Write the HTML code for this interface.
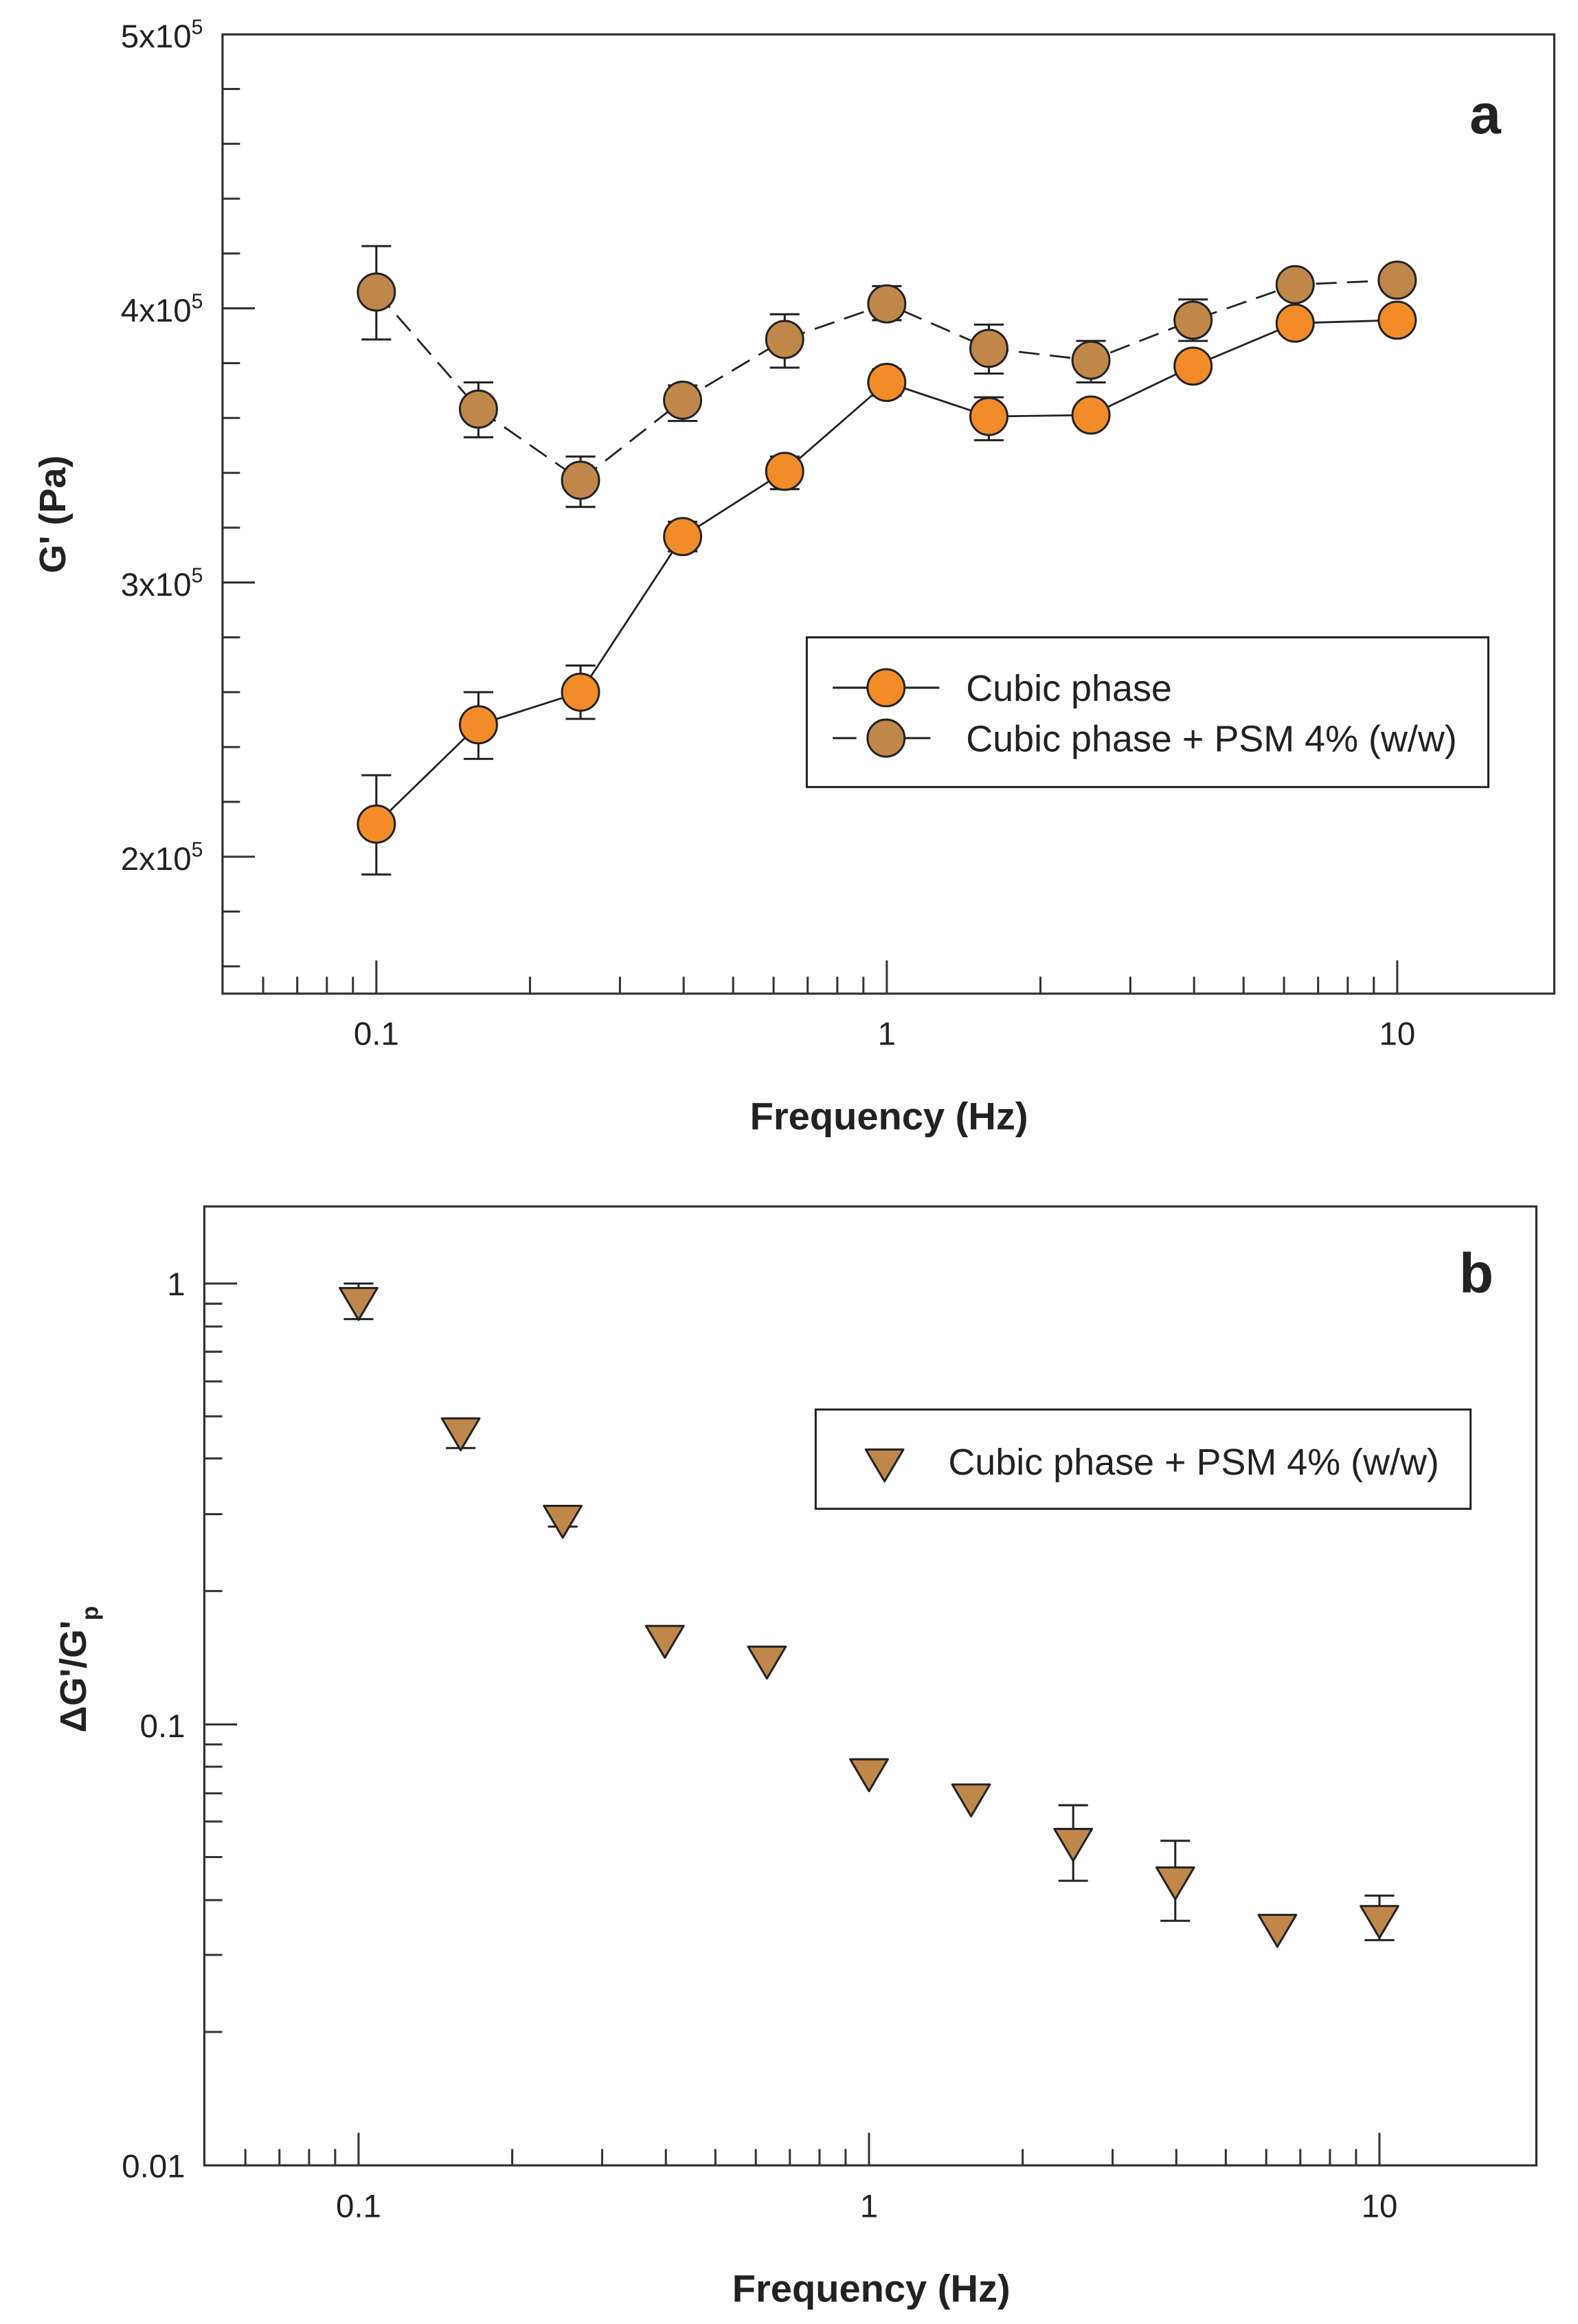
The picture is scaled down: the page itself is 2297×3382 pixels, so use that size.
<!DOCTYPE html>
<html><head><meta charset="utf-8"><style>
html,body{margin:0;padding:0;background:#fff;}
svg{display:block;}
text{font-family:"Liberation Sans",Arial,sans-serif;fill:#222;}
</style></head><body>
<svg width="2297" height="3382" viewBox="0 0 1065 1568" xmlns="http://www.w3.org/2000/svg">
<rect width="1065" height="1568" fill="#fff"/>

<!-- ================= PANEL A ================= -->
<rect x="150.2" y="23.2" width="898.8" height="647.2" fill="none" stroke="#333" stroke-width="1.5"/>
<path stroke="#333" stroke-width="1.4" fill="none" d="
M150 208 h22 M150 393 h22 M150 578 h22
M150 60 h12 M150 97 h12 M150 134 h12 M150 171 h12
M150 245 h12 M150 282 h12 M150 319 h12 M150 356 h12
M150 430 h12 M150 467 h12 M150 504 h12 M150 541 h12
M150 615 h12 M150 652 h12"/>
<g id="xt">
<path stroke="#333" stroke-width="1.4" fill="none" d="
M254 670 v-22 M598.5 670 v-22 M943 670 v-22
M177.6 670 v-11 M200.6 670 v-11 M220.6 670 v-11 M238.2 670 v-11
M357.7 670 v-11 M418.4 670 v-11 M461.4 670 v-11 M494.8 670 v-11 M522.1 670 v-11 M545.1 670 v-11 M565.1 670 v-11 M582.7 670 v-11
M702.2 670 v-11 M762.9 670 v-11 M805.9 670 v-11 M839.3 670 v-11 M866.6 670 v-11 M889.6 670 v-11 M909.6 670 v-11 M927.2 670 v-11"/>
</g>
<g font-size="22" text-anchor="end">
<text x="137" y="32">5x10<tspan font-size="14" dy="-9">5</tspan></text>
<text x="137" y="217">4x10<tspan font-size="14" dy="-9">5</tspan></text>
<text x="137" y="402">3x10<tspan font-size="14" dy="-9">5</tspan></text>
<text x="137" y="587">2x10<tspan font-size="14" dy="-9">5</tspan></text>
</g>
<g font-size="22" text-anchor="middle">
<text x="254" y="705">0.1</text>
<text x="598.5" y="705">1</text>
<text x="943" y="705">10</text>
</g>
<text x="600" y="762" font-size="26" font-weight="bold" text-anchor="middle">Frequency (Hz)</text>
<text transform="translate(44,347) rotate(-90)" font-size="25" font-weight="bold" text-anchor="middle">G' (Pa)</text>
<text x="1013" y="90" font-size="38" font-weight="bold" text-anchor="end">a</text>

<polyline fill="none" stroke="#222" stroke-width="1.3" stroke-dasharray="14,7" points="254,197 322.9,276 391.8,324 460.7,270 529.6,229 598.5,205 667.4,235 736.3,243 805.2,216 874.1,192 943,189"/>
<polyline fill="none" stroke="#222" stroke-width="1.3" points="254,556 322.9,489 391.8,467 460.7,362 529.6,318 598.5,258 667.4,281 736.3,280 805.2,247 874.1,218 943,216"/>
<path stroke="#222" stroke-width="1.4" fill="none" d="
M254 166 V229 M244 166 h20 M244 229 h20
M322.9 258 V295 M312.9 258 h20 M312.9 295 h20
M391.8 308 V342 M381.8 308 h20 M381.8 342 h20
M460.7 260 V284 M450.7 260 h20 M450.7 284 h20
M529.6 212 V248 M519.6 212 h20 M519.6 248 h20
M598.5 193 V216 M588.5 193 h20 M588.5 216 h20
M667.4 219 V252 M657.4 219 h20 M657.4 252 h20
M736.3 230 V258 M726.3 230 h20 M726.3 258 h20
M805.2 202 V230 M795.2 202 h20 M795.2 230 h20
M874.1 185 V200 M864.1 185 h20 M864.1 200 h20
M943 182 V196 M933 182 h20 M933 196 h20
M254 523 V590 M244 523 h20 M244 590 h20
M322.9 467 V512 M312.9 467 h20 M312.9 512 h20
M391.8 449 V485 M381.8 449 h20 M381.8 485 h20
M460.7 352 V372 M450.7 352 h20 M450.7 372 h20
M529.6 308 V330 M519.6 308 h20 M519.6 330 h20
M598.5 249 V267 M588.5 249 h20 M588.5 267 h20
M667.4 268 V297 M657.4 268 h20 M657.4 297 h20
M736.3 272 V288 M726.3 272 h20 M726.3 288 h20
M805.2 240 V254 M795.2 240 h20 M795.2 254 h20
M874.1 212 V224 M864.1 212 h20 M864.1 224 h20
M943 210 V222 M933 210 h20 M933 222 h20"/>
<g fill="#C0874A" stroke="#222" stroke-width="1.4">
<circle cx="254" cy="197" r="12.5"/><circle cx="322.9" cy="276" r="12.5"/><circle cx="391.8" cy="324" r="12.5"/><circle cx="460.7" cy="270" r="12.5"/><circle cx="529.6" cy="229" r="12.5"/><circle cx="598.5" cy="205" r="12.5"/><circle cx="667.4" cy="235" r="12.5"/><circle cx="736.3" cy="243" r="12.5"/><circle cx="805.2" cy="216" r="12.5"/><circle cx="874.1" cy="192" r="12.5"/><circle cx="943" cy="189" r="12.5"/>
</g>
<g fill="#F28C28" stroke="#222" stroke-width="1.4">
<circle cx="254" cy="556" r="12.5"/><circle cx="322.9" cy="489" r="12.5"/><circle cx="391.8" cy="467" r="12.5"/><circle cx="460.7" cy="362" r="12.5"/><circle cx="529.6" cy="318" r="12.5"/><circle cx="598.5" cy="258" r="12.5"/><circle cx="667.4" cy="281" r="12.5"/><circle cx="736.3" cy="280" r="12.5"/><circle cx="805.2" cy="247" r="12.5"/><circle cx="874.1" cy="218" r="12.5"/><circle cx="943" cy="216" r="12.5"/>
</g>
<rect x="544.5" y="430" width="460" height="101" fill="#fff" stroke="#222" stroke-width="1.4"/>
<path stroke="#222" stroke-width="1.4" d="M562 464 H634 M562 498 H578 M610 498 H628"/>
<circle cx="598" cy="464" r="12.5" fill="#F28C28" stroke="#222" stroke-width="1.4"/>
<circle cx="598" cy="498" r="12.5" fill="#C0874A" stroke="#222" stroke-width="1.4"/>
<text x="652" y="473" font-size="25">Cubic phase</text>
<text x="652" y="507" font-size="25">Cubic phase + PSM 4% (w/w)</text>

<!-- ================= PANEL B ================= -->
<rect x="137.9" y="814" width="899" height="647" fill="none" stroke="#333" stroke-width="1.5"/>
<path stroke="#333" stroke-width="1.4" fill="none" d="
M138 866 h22 M138 1163.5 h22
M138 879.6 h12 M138 895 h12 M138 912 h12 M138 932 h12 M138 955.6 h12 M138 984 h12 M138 1021.6 h12 M138 1073.5 h12
M138 1177 h12 M138 1192 h12 M138 1210 h12 M138 1229 h12 M138 1253 h12 M138 1282 h12 M138 1319 h12 M138 1371 h12"/>
<use href="#xt" transform="translate(-12,791)"/>
<g font-size="22" text-anchor="end">
<text x="125" y="874">1</text>
<text x="125" y="1172">0.1</text>
<text x="125" y="1469">0.01</text>
</g>
<g font-size="22" text-anchor="middle">
<text x="242" y="1496">0.1</text>
<text x="586.5" y="1496">1</text>
<text x="931" y="1496">10</text>
</g>
<text x="588" y="1553" font-size="26" font-weight="bold" text-anchor="middle">Frequency (Hz)</text>
<text transform="translate(58,1169) rotate(-90)" font-size="25" font-weight="bold">ΔG'/G'<tspan font-size="16" dy="8">p</tspan></text>
<text x="1008" y="872" font-size="38" font-weight="bold" text-anchor="end">b</text>

<path stroke="#222" stroke-width="1.4" fill="none" d="
M242 866 V890 M232 866 h20 M232 890 h20
M310.9 957 V977 M300.9 957 h20 M300.9 977 h20
M379.8 1020 V1030 M369.8 1030 h20
M724.3 1218 V1269 M714.3 1218 h20 M714.3 1269 h20
M793.2 1242 V1296 M783.2 1242 h20 M783.2 1296 h20
M931 1279 V1309 M921 1279 h20 M921 1309 h20"/>
<g fill="#C0874A" stroke="#222" stroke-width="1.4" stroke-linejoin="round">
<path d="M229.3 869 h25.4 l-12.7 21.5z"/>
<path d="M298.2 957 h25.4 l-12.7 21.5z"/>
<path d="M367.1 1016 h25.4 l-12.7 21.5z"/>
<path d="M436 1097 h25.4 l-12.7 21.5z"/>
<path d="M504.9 1111 h25.4 l-12.7 21.5z"/>
<path d="M573.8 1187 h25.4 l-12.7 21.5z"/>
<path d="M642.7 1204 h25.4 l-12.7 21.5z"/>
<path d="M711.6 1234 h25.4 l-12.7 21.5z"/>
<path d="M780.5 1260 h25.4 l-12.7 21.5z"/>
<path d="M849.4 1292 h25.4 l-12.7 21.5z"/>
<path d="M918.3 1286 h25.4 l-12.7 21.5z"/>
</g>
<rect x="550.5" y="951" width="442" height="67" fill="#fff" stroke="#222" stroke-width="1.4"/>
<path d="M584.3 978 h25.4 l-12.7 21.5z" fill="#C0874A" stroke="#222" stroke-width="1.4" stroke-linejoin="round"/>
<text x="640" y="995" font-size="25">Cubic phase + PSM 4% (w/w)</text>
</svg>
</body></html>
